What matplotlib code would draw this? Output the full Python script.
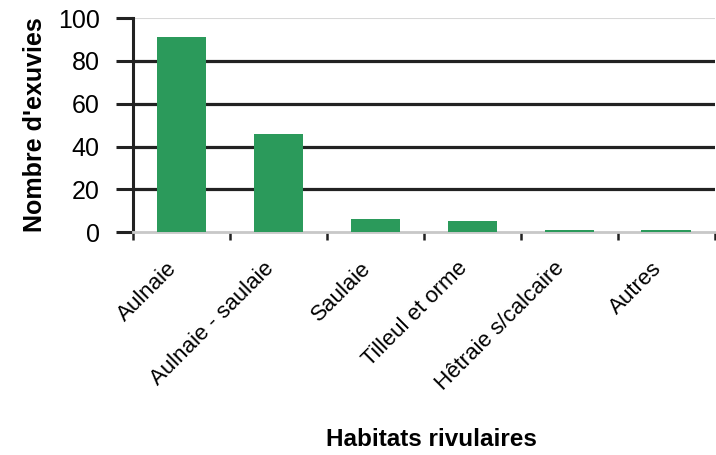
import matplotlib
matplotlib.use("Agg")
import matplotlib.pyplot as plt
import matplotlib.transforms as mtransforms

categories = ["Aulnaie", "Aulnaie - saulaie", "Saulaie", "Tilleul et orme",
              "Hêtraie s/calcaire", "Autres"]
values = [91, 46, 6, 5, 1, 1]
yticks = [0, 20, 40, 60, 80, 100]

plt.rcParams["font.family"] = ["Liberation Sans", "DejaVu Sans"]

fig = plt.figure(figsize=(7.16, 4.55), dpi=100)
ax = fig.add_axes([0.186, 0.49, 0.812, 0.47])

x = list(range(len(categories)))
ax.bar(x, values, width=0.51, color="#2b9a5b", zorder=3)

ax.set_xlim(-0.5, len(categories) - 0.5)
ax.set_ylim(0, 100)
ax.set_yticks(yticks)
ax.set_yticklabels([str(v) for v in yticks], fontsize=18)
ax.tick_params(axis="y", length=12, width=2.2, color="#222222", pad=12)

for v in yticks[1:-1]:
    ax.axhline(v, color="#222222", lw=2.3, zorder=1)
ax.axhline(100, color="#d8d8d8", lw=1.5, zorder=1)

ax.set_xticks(x)
ax.set_xticklabels(categories, rotation=45, ha="right", va="center",
                   rotation_mode="anchor", fontsize=16)
ax.set_xticks([i - 0.5 for i in range(len(categories) + 1)], minor=True)
ax.tick_params(axis="x", which="major", length=0, pad=24)
ax.tick_params(axis="x", which="minor", length=6, width=1.8, color="#222222")
shift = mtransforms.ScaledTranslation(-8 / 100, 0, fig.dpi_scale_trans)
for lab in ax.get_xticklabels():
    lab.set_transform(lab.get_transform() + shift)

for s in ["top", "right"]:
    ax.spines[s].set_visible(False)
ax.spines["left"].set_color("#222222")
ax.spines["left"].set_linewidth(2.2)
ax.spines["bottom"].set_color("#c8c8c8")
ax.spines["bottom"].set_linewidth(2)

ax.set_ylabel("Nombre d'exuvies", fontsize=18, fontweight="bold", labelpad=8)
fig.text(0.602, 0.033, "Habitats rivulaires", fontsize=17.5, fontweight="bold",
         ha="center", va="center")

fig.savefig("out.png", dpi=100)
